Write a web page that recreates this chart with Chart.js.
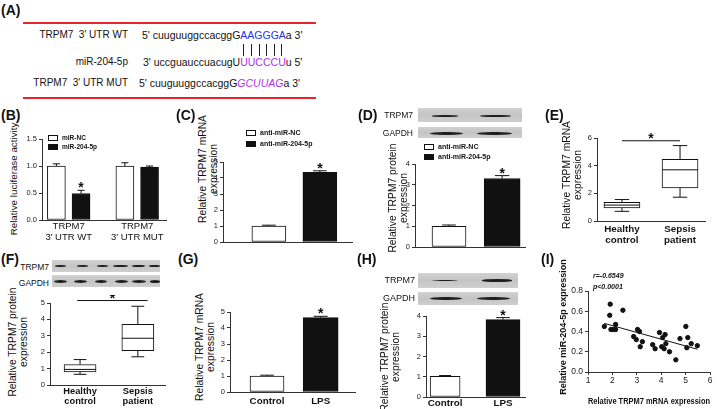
<!DOCTYPE html>
<html>
<head>
<meta charset="utf-8">
<script src="https://cdn.jsdelivr.net/npm/chart.js@4/dist/chart.umd.min.js"></script>
<style>
  body { margin: 0; width: 720px; height: 409px; overflow: hidden; position: relative; background: #fff;
         font-family: "Liberation Sans", Arial, Helvetica, sans-serif; color: #111; }
  .abs { position: absolute; white-space: nowrap; color: #111; }
  .plab { position: absolute; font-weight: bold; font-size: 14px; line-height: 14px; }
  .vt { position: absolute; white-space: pre; text-align: center; transform: translate(-50%, -50%) rotate(-90deg); }
  .leg { position: absolute; font-weight: bold; white-space: nowrap; display: flex; align-items: center; line-height: 1; }
  .sw { display: inline-block; width: 8px; height: 4px; border: 1px solid #111; margin-right: 4px; }
  .blot { position: absolute; background: linear-gradient(#d2d2d2, #c4c4c4 50%, #cfcfcf); overflow: hidden; }
  .band { position: absolute; background: #1e1e1e; border-radius: 50%; filter: blur(0.5px); }
  .redline { position: absolute; height: 2px; background: #e8232a; }
  .seq { position: absolute; font-size: 10.5px; white-space: nowrap; line-height: 12px; }
  .rowlab { position: absolute; left: 0; width: 128px; text-align: right; font-size: 10px; white-space: pre; line-height: 12px; }
</style>
</head>
<body>
<script>
const FONT = "'Liberation Sans', Arial, Helvetica, sans-serif";

// (B) luciferase reporter
const lucCats = [["TRPM7", "3' UTR WT"], ["TRPM7", "3' UTR MUT"]];
const lucGroups = ["miR-NC", "miR-204-5p"];
const lucNC = [1.0, 1.0];
const lucNCErr = [0.04, 0.06];
const lucMiR = [0.49, 0.98];
const lucMiRErr = [0.06, 0.02];

// (C) TRPM7 mRNA, (D) TRPM7 protein
const antiGroups = ["anti-miR-NC", "anti-miR-204-5p"];
const cVals = [1.0, 4.35];
const cErr = [0.05, 0.1];
const dVals = [1.0, 3.3];
const dErr = [0.06, 0.14];

// (E) / (F) box plots
const boxCats = [["Healthy", "control"], ["Sepsis", "patient"]];
const eMin = [0.7, 1.72], eQ1 = [0.95, 2.4], eMed = [1.15, 3.7], eQ3 = [1.35, 4.45], eMax = [1.55, 5.45];
const eSig = [1, 2, 5.8];
const fMin = [0.65, 1.72], fQ1 = [0.8, 2.1], fMed = [0.95, 2.85], fQ3 = [1.25, 3.7], fMax = [1.55, 4.8];
const fSig = [0.95, 2.17, 5.15];

// (G) mRNA, (H) protein with LPS
const lpsCats = ["Control", "LPS"];
const gVals = [1.0, 4.65];
const gErr = [0.05, 0.08];
const hVals = [1.02, 3.82];
const hErr = [0.04, 0.1];

// (I) correlation
const iX = [1.67, 1.89, 1.91, 1.94, 2.05, 2.13, 2.13, 2.43, 2.87, 2.98, 3.03, 3.11, 3.14, 3.23, 3.65,
            3.75, 3.93, 4.02, 4.06, 4.16, 4.12, 4.19, 4.34, 4.60, 4.77, 5.01, 5.05, 5.09, 5.23, 5.48];
const iY = [0.45, 0.56, 0.67, 0.42, 0.42, 0.47, 0.42, 0.61, 0.35, 0.32, 0.42, 0.40, 0.25, 0.30, 0.27,
            0.23, 0.39, 0.25, 0.34, 0.37, 0.23, 0.28, 0.20, 0.12, 0.33, 0.45, 0.24, 0.34, 0.28, 0.26];
const fitX = [1.67, 5.48];
const fitY = [0.48, 0.225];
const iStats = ["r=-0.6549", "p<0.0001"];

Chart.defaults.font.family = FONT;
Chart.defaults.color = '#111';
Chart.defaults.animation = false;
Chart.defaults.plugins.legend.display = false;
Chart.defaults.plugins.tooltip.enabled = false;

function add(html, cls, css) {
  const d = document.createElement('div');
  d.className = cls;
  d.innerHTML = html;
  Object.assign(d.style, css);
  document.body.appendChild(d);
  return d;
}

function vtitle(text, cx, cy, size, lh, bold) {
  add(text, 'vt', { left: cx + 'px', top: cy + 'px', fontSize: size + 'px', lineHeight: (lh || 11) + 'px',
                    fontWeight: bold ? 'bold' : 'normal' });
}

function legend(x, y, names, fills, size, rowH) {
  names.forEach((n, i) => {
    add('<span class="sw" style="background:' + fills[i] + '"></span>' + n, 'leg',
        { left: x + 'px', top: (y + i * rowH) + 'px', fontSize: size + 'px' });
  });
}

function blot(x, y, w, h, bands) {
  const d = add('', 'blot', { left: x + 'px', top: y + 'px', width: w + 'px', height: h + 'px' });
  bands.forEach(b => {
    const s = document.createElement('div');
    s.className = 'band';
    Object.assign(s.style, { left: (b[0] - x) + 'px', width: b[1] + 'px', height: b[2] + 'px',
                             top: (h / 2 - b[2] / 2 + (b[3] || 0)) + 'px' });
    d.appendChild(s);
  });
}

function makeChart(left, top, w, h, cfg) {
  const c = document.createElement('canvas');
  c.width = w; c.height = h;
  Object.assign(c.style, { position: 'absolute', left: left + 'px', top: top + 'px', width: w + 'px', height: h + 'px' });
  document.body.appendChild(c);
  cfg.options = Object.assign({ responsive: false, maintainAspectRatio: false, devicePixelRatio: 1 }, cfg.options);
  return new Chart(c.getContext('2d'), cfg);
}

function yScale(max, step, w, fmt, size) {
  return {
    min: 0, max: max,
    ticks: { stepSize: step, padding: 2, color: '#222', font: { size: size || 7.5 }, callback: fmt || (v => v) },
    grid: { drawOnChartArea: false, tickLength: 3, color: '#333' },
    border: { color: '#333' },
    afterFit: s => { s.width = w; }
  };
}

function xScale(min, max, pos, labels, h, font, pad) {
  return {
    type: 'linear', min: min, max: max, offset: false,
    afterBuildTicks: s => { s.ticks = pos.map(v => ({ value: v })); },
    ticks: { padding: pad === undefined ? 2 : pad, autoSkip: false, maxRotation: 0, color: '#111', font: font,
             callback: (v, i) => labels[i] },
    grid: { display: false, drawTicks: false },
    border: { color: '#333' },
    afterFit: s => { s.height = h; }
  };
}

function barMarks(errs, stars) {
  return {
    id: 'barMarks',
    afterDatasetsDraw(chart) {
      const ctx = chart.ctx, ys = chart.scales.y;
      ctx.save();
      ctx.strokeStyle = '#111'; ctx.fillStyle = '#111'; ctx.lineWidth = 1;
      ctx.font = 'bold 14px ' + FONT; ctx.textAlign = 'center';
      chart.data.datasets.forEach((ds, di) => {
        chart.getDatasetMeta(di).data.forEach((bar, j) => {
          const top = ys.getPixelForValue(ds.data[j].y + errs[di][j]);
          const cap = bar.width * 0.2;
          ctx.beginPath();
          ctx.moveTo(bar.x, bar.y); ctx.lineTo(bar.x, top);
          ctx.moveTo(bar.x - cap, top); ctx.lineTo(bar.x + cap, top);
          ctx.stroke();
          if (stars[di][j]) ctx.fillText('*', bar.x, top + 2);
        });
      });
      ctx.restore();
    }
  };
}

function boxMarks(mins, meds, maxs, sig) {
  return {
    id: 'boxMarks',
    afterDatasetsDraw(chart) {
      const ctx = chart.ctx, ys = chart.scales.y, xs = chart.scales.x;
      const ds = chart.data.datasets[0];
      ctx.save();
      ctx.strokeStyle = '#111'; ctx.fillStyle = '#111'; ctx.lineWidth = 1;
      chart.getDatasetMeta(0).data.forEach((bar, j) => {
        const half = bar.width / 2, cap = bar.width * 0.2;
        const q1 = ds.data[j].y[0], q3 = ds.data[j].y[1];
        const pMed = ys.getPixelForValue(meds[j]), pMax = ys.getPixelForValue(maxs[j]), pMin = ys.getPixelForValue(mins[j]);
        ctx.beginPath();
        ctx.moveTo(bar.x - half, pMed); ctx.lineTo(bar.x + half, pMed);
        ctx.moveTo(bar.x, ys.getPixelForValue(q3)); ctx.lineTo(bar.x, pMax);
        ctx.moveTo(bar.x, ys.getPixelForValue(q1)); ctx.lineTo(bar.x, pMin);
        ctx.moveTo(bar.x - cap, pMax); ctx.lineTo(bar.x + cap, pMax);
        ctx.moveTo(bar.x - cap, pMin); ctx.lineTo(bar.x + cap, pMin);
        ctx.stroke();
      });
      const sy = ys.getPixelForValue(sig[2]);
      const x0 = xs.getPixelForValue(sig[0]), x1 = xs.getPixelForValue(sig[1]);
      ctx.beginPath(); ctx.moveTo(x0, sy); ctx.lineTo(x1, sy); ctx.stroke();
      ctx.font = 'bold 14px ' + FONT; ctx.textAlign = 'center';
      ctx.fillText('*', (x0 + x1) / 2, sy + 2);
      ctx.restore();
    }
  };
}

function barSet(label, pts, fill, thick) {
  return { label: label, data: pts, backgroundColor: fill, borderColor: '#111', borderWidth: 1,
           borderSkipped: false, barThickness: thick, grouped: false };
}

// ---------- (A) ----------
add('(A)', 'plab', { left: '1px', top: '3px' });
add('', 'redline', { left: '23px', top: '22px', width: '293px' });
add('', 'redline', { left: '23px', top: '97px', width: '293px' });
add("TRPM7  3' UTR WT", 'rowlab', { top: '29px' });
add('miR-204-5p', 'rowlab', { top: '56px' });
add("TRPM7  3' UTR MUT", 'rowlab', { top: '77px' });
add("5' cuuguuggccacggG<span style='color:#2233ee'>AAGGGA</span>a 3'", 'seq', { left: '142px', top: '29px' });
add("3' uccguauccuacugU<span id='seed'>" + 'UUCCCU'.split('').map(ch => "<span style='color:#b030e8'>" + ch + '</span>').join('') + "</span>u 5'", 'seq', { left: '143px', top: '56px' });
add("5' cuuguuggccacggG<i style='color:#b030e8'>GCUUAG</i>a 3'", 'seq', { left: '139px', top: '77px' });
document.querySelectorAll('#seed span').forEach(s => {
  const r = s.getBoundingClientRect();
  add('', 'abs', { left: Math.round(r.left + r.width / 2 - 0.5) + 'px', top: '44px', width: '1.3px', height: '12px', background: '#222' });
});

// ---------- (B) ----------
add('(B)', 'plab', { left: '1px', top: '108px' });
vtitle('Relative luciferase activity', 13, 179, 9.8);
makeChart(10, 125, 160, 125, {
  type: 'bar',
  data: { datasets: [
    barSet(lucGroups[0], lucNC.map((v, i) => ({ x: i + 1 - 0.18, y: v })), '#fff', 18),
    barSet(lucGroups[1], lucMiR.map((v, i) => ({ x: i + 1 + 0.18, y: v })), '#111', 18)
  ] },
  options: {
    layout: { padding: { top: 14, bottom: 2, right: 4, left: 0 } },
    scales: {
      x: xScale(0.61, 2.42, [1, 2], lucCats, 28, { size: 9.5, lineHeight: 1.15 }, 1),
      y: yScale(1.5, 0.5, 32, v => v.toFixed(1))
    }
  },
  plugins: [barMarks([lucNCErr, lucMiRErr], [[false, false], [true, false]])]
});
legend(48, 135, lucGroups, ['#fff', '#111'], 6.5, 9);

// ---------- (C) ----------
add('(C)', 'plab', { left: '176px', top: '108px' });
vtitle('Relative TRPM7 mRNA\nexpression', 208, 169, 10.3);
makeChart(205, 150, 150, 100, {
  type: 'bar',
  data: { datasets: [
    barSet(antiGroups[0], [{ x: 1, y: cVals[0] }], '#fff', 34),
    barSet(antiGroups[1], [{ x: 2, y: cVals[1] }], '#111', 34)
  ] },
  options: {
    layout: { padding: { top: 12, bottom: 6, right: 3, left: 0 } },
    scales: {
      x: xScale(0.1, 2.63, [1, 2], ['', ''], 2, { size: 9 }),
      y: yScale(5, 1, 18)
    }
  },
  plugins: [barMarks([[cErr[0]], [cErr[1]]], [[false], [true]])]
});
legend(246, 129, antiGroups, ['#fff', '#111'], 7, 11);

// ---------- (D) ----------
add('(D)', 'plab', { left: '358px', top: '108px' });
add('TRPM7', 'abs', { left: '340px', width: '73px', textAlign: 'right', top: '110px', fontSize: '8.5px', lineHeight: '10px' });
add('GAPDH', 'abs', { left: '340px', width: '73px', textAlign: 'right', top: '128px', fontSize: '8.5px', lineHeight: '10px' });
blot(418, 108, 104, 14, [[432, 26, 1.5, 1], [480, 31, 2.5, 1]]);
blot(418, 127, 104, 11, [[430, 33, 3.5, 1], [477, 35, 3.5, 1]]);
vtitle('Relative TRPM7 protein\nexpression', 398, 198, 10.3);
makeChart(400, 155, 130, 100, {
  type: 'bar',
  data: { datasets: [
    barSet(antiGroups[0], [{ x: 1, y: dVals[0] }], '#fff', 34),
    barSet(antiGroups[1], [{ x: 2, y: dVals[1] }], '#111', 36)
  ] },
  options: {
    layout: { padding: { top: 9, bottom: 6, right: 5, left: 0 } },
    scales: {
      x: xScale(0.36, 2.43, [1, 2], ['', ''], 2, { size: 9 }),
      y: yScale(4, 1, 15)
    }
  },
  plugins: [barMarks([[dErr[0]], [dErr[1]]], [[false], [true]])]
});
legend(424, 143, antiGroups, ['#fff', '#111'], 7, 10);

// ---------- (E) ----------
add('(E)', 'plab', { left: '545px', top: '108px' });
vtitle('Relative TRPM7 mRNA\nexpression', 572, 175, 10.3);
makeChart(582, 128, 130, 121, {
  type: 'bar',
  data: { datasets: [
    barSet('box', eQ1.map((v, i) => ({ x: i + 1, y: [v, eQ3[i]] })), '#fff', 36)
  ] },
  options: {
    layout: { padding: { top: 10, bottom: 2, right: 7, left: 0 } },
    scales: {
      x: xScale(0.57, 2.43, [1, 2], boxCats, 26, { size: 9.8, weight: 'bold', lineHeight: 1.1 }, 3),
      y: yScale(6, 2, 15)
    }
  },
  plugins: [boxMarks(eMin, eMed, eMax, eSig)]
});

// ---------- (F) ----------
add('(F)', 'plab', { left: '1px', top: '252px' });
add('TRPM7', 'abs', { left: '0px', width: '49px', textAlign: 'right', top: '262px', fontSize: '8.5px', lineHeight: '10px' });
add('GAPDH', 'abs', { left: '0px', width: '49px', textAlign: 'right', top: '278px', fontSize: '8.5px', lineHeight: '10px' });
blot(52, 260, 108, 12, [[55, 11, 1.3], [77, 11, 1.3], [97, 11, 1.3], [113, 15, 2.5], [132, 13, 2.5], [149, 11, 2.5]]);
blot(52, 275, 108, 12, [[54, 13, 3], [74, 13, 3], [95, 12, 3], [115, 13, 3], [132, 14, 3], [150, 10, 3]]);
vtitle('Relative TRPM7 protein\nexpression', 18, 342, 10.3);
makeChart(36, 295, 132, 114, {
  type: 'bar',
  data: { datasets: [
    barSet('box', fQ1.map((v, i) => ({ x: i + 1, y: [v, fQ3[i]] })), '#fff', 32)
  ] },
  options: {
    layout: { padding: { top: 8, bottom: 0, right: 3, left: 0 } },
    scales: {
      x: xScale(0.48, 2.47, [1, 2], boxCats, 24, { size: 9.3, weight: 'bold', lineHeight: 1.1 }, 1),
      y: yScale(5, 1, 14)
    }
  },
  plugins: [boxMarks(fMin, fMed, fMax, fSig)]
});

// ---------- (G) ----------
add('(G)', 'plab', { left: '178px', top: '252px' });
vtitle('Relative TRPM7 mRNA\nexpression', 205, 347, 10.3);
makeChart(215, 302, 145, 107, {
  type: 'bar',
  data: { datasets: [
    barSet(lpsCats[0], [{ x: 1, y: gVals[0] }], '#fff', 34),
    barSet(lpsCats[1], [{ x: 2, y: gVals[1] }], '#111', 35)
  ] },
  options: {
    layout: { padding: { top: 10, bottom: 0, right: 5, left: 0 } },
    scales: {
      x: xScale(0.31, 2.64, [1, 2], lpsCats, 17, { size: 9.8, weight: 'bold' }, 3),
      y: yScale(5, 1, 15)
    }
  },
  plugins: [barMarks([[gErr[0]], [gErr[1]]], [[false], [true]])]
});

// ---------- (H) ----------
add('(H)', 'plab', { left: '357px', top: '252px' });
add('TRPM7', 'abs', { left: '340px', width: '75px', textAlign: 'right', top: '275px', fontSize: '9px', lineHeight: '10px' });
add('GAPDH', 'abs', { left: '340px', width: '75px', textAlign: 'right', top: '293px', fontSize: '9px', lineHeight: '10px' });
blot(418, 273, 100, 15, [[432, 26, 1.5], [482, 30, 2.5]]);
blot(418, 292, 100, 13, [[430, 32, 3.5], [477, 33, 3.5]]);
vtitle('Relative TRPM7 protein\nexpression', 390, 357, 10.3);
makeChart(411, 306, 120, 103, {
  type: 'bar',
  data: { datasets: [
    barSet(lpsCats[0], [{ x: 1, y: hVals[0] }], '#fff', 30),
    barSet(lpsCats[1], [{ x: 2, y: hVals[1] }], '#111', 34)
  ] },
  options: {
    layout: { padding: { top: 10, bottom: 0, right: 6, left: 0 } },
    scales: {
      x: xScale(0.67, 2.38, [1, 2], lpsCats, 12, { size: 9.8, weight: 'bold' }, 0),
      y: yScale(4, 1, 15)
    }
  },
  plugins: [barMarks([[hErr[0]], [hErr[1]]], [[false], [true]])]
});

// ---------- (I) ----------
add('(I)', 'plab', { left: '541px', top: '252px' });
iStats.forEach((t, k) => add(t, 'abs', { left: '593px', top: (272 + k * 11) + 'px', fontSize: '7px', fontWeight: 'bold', fontStyle: 'italic' }));
vtitle('Relative miR-204-5p expression', 563, 327, 9, 11, true);
makeChart(558, 255, 162, 154, {
  type: 'scatter',
  data: { datasets: [
    { data: iX.map((x, k) => ({ x: x, y: iY[k] })), pointRadius: 2.2, backgroundColor: '#111', borderColor: '#111' },
    { data: fitX.map((x, k) => ({ x: x, y: fitY[k] })), showLine: true, pointRadius: 0, borderColor: '#111', borderWidth: 1 }
  ] },
  options: {
    layout: { padding: { top: 36, bottom: 2, right: 10, left: 0 } },
    scales: {
      x: {
        type: 'linear', min: 1, max: 6,
        ticks: { stepSize: 1, padding: 1, color: '#222', font: { size: 8.5 } },
        grid: { drawOnChartArea: false, tickLength: 3, color: '#333' },
        border: { color: '#333' },
        title: { display: true, text: 'Relative TRPM7 mRNA expression', font: { size: 9, weight: 'bold' }, padding: { top: 1, bottom: 0 } },
        afterFit: s => { s.height = 35; }
      },
      y: yScale(0.8, 0.2, 30, v => v.toFixed(1), 8.5)
    }
  }
});
</script>
</body>
</html>
